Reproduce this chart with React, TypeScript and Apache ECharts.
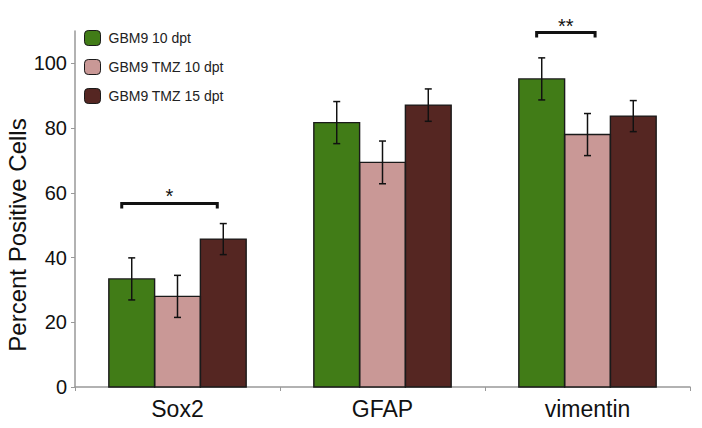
import React, { useEffect, useRef } from "react";
import * as echarts from "echarts";

const categories = ["Sox2", "GFAP", "vimentin"];
const seriesNames = ["GBM9 10 dpt", "GBM9 TMZ 10 dpt", "GBM9 TMZ 15 dpt"];
const green = [33.4, 81.7, 95.2];
const pink = [28.0, 69.4, 78.0];
const dark = [45.7, 87.1, 83.7];
const greenErr = [6.5, 6.5, 6.5];
const pinkErr = [6.5, 6.6, 6.5];
const darkErr = [4.8, 5.0, 4.8];
const yTicks = [0, 20, 40, 60, 80, 100];
const yTitle = "Percent Positive Cells";
// bracket: [category index, y value, left frac of category width, right frac, label]
const brackets: [number, number, number, number, string][] = [
  [0, 56.7, -0.272, 0.194, "*"],
  [2, 109.5, -0.248, 0.037, "**"],
];

const colors = ["#417c17", "#c99896", "#552622"];
const BAR_FRAC = 0.2233; // bar width as fraction of category band
const FONT = "'Liberation Sans', Arial, sans-serif";

export default function App() {
  const ref = useRef<HTMLDivElement>(null);
  useEffect(() => {
    document.body.style.margin = "0";
    const chart = echarts.init(ref.current!, null, { renderer: "svg" });
    const values = [green, pink, dark];
    const errs = [greenErr, pinkErr, darkErr];

    const barSeries = values.map((v, i) => ({
      name: seriesNames[i],
      type: "bar",
      data: v,
      barGap: 0,
      barWidth: BAR_FRAC * 100 + "%",
      itemStyle: { color: colors[i], borderWidth: 0 },
      z: 2,
    }));

    const outlineSeries = values.map((v, i) => ({
      type: "custom",
      name: "outline" + i,
      data: v.map((val, k) => [k, val]),
      z: 4,
      silent: true,
      renderItem: (params: any, api: any) => {
        const k = api.value(0);
        const top = api.coord([k, api.value(1)]);
        const base = api.coord([k, 0]);
        const bw = api.size([1, 0])[0] * BAR_FRAC;
        const cx = top[0] + (i - 1) * bw;
        return {
          type: "rect",
          shape: { x: cx - bw / 2, y: top[1], width: bw, height: base[1] - top[1] },
          style: { fill: "none", stroke: "#1a1a1a", lineWidth: 1.4 },
        };
      },
    }));

    const errSeries = values.map((v, i) => ({
      type: "custom",
      name: "err" + i,
      data: v.map((val, k) => [k, val - errs[i][k], val + errs[i][k]]),
      z: 5,
      silent: true,
      renderItem: (params: any, api: any) => {
        const k = api.value(0);
        const lo = api.coord([k, api.value(1)]);
        const hi = api.coord([k, api.value(2)]);
        const bw = api.size([1, 0])[0] * BAR_FRAC;
        const x = lo[0] + (i - 1) * bw;
        const cap = 3.5;
        const style = { stroke: "#111", lineWidth: 1.5 };
        return {
          type: "group",
          children: [
            { type: "line", shape: { x1: x, y1: hi[1], x2: x, y2: lo[1] }, style },
            { type: "line", shape: { x1: x - cap, y1: hi[1], x2: x + cap, y2: hi[1] }, style },
            { type: "line", shape: { x1: x - cap, y1: lo[1], x2: x + cap, y2: lo[1] }, style },
          ],
        };
      },
    }));

    const bracketSeries = {
      type: "custom",
      name: "brackets",
      data: brackets.map((b) => [b[0], b[1], b[2], b[3], b[4]]),
      clip: false,
      silent: true,
      z: 6,
      renderItem: (params: any, api: any) => {
        const b = brackets[params.dataIndex];
        const c = api.coord([b[0], b[1]]);
        const catW = api.size([1, 0])[0];
        const x1 = c[0] + b[2] * catW;
        const x2 = c[0] + b[3] * catW;
        const y = c[1];
        return {
          type: "group",
          children: [
            {
              type: "polyline",
              shape: { points: [[x1, y + 5], [x1, y], [x2, y], [x2, y + 5]] },
              style: { stroke: "#111", lineWidth: 3, fill: "none" },
            },
            {
              type: "text",
              style: {
                text: b[4],
                x: (x1 + x2) / 2,
                y: y + 3,
                align: "center",
                verticalAlign: "bottom",
                font: "20px " + FONT,
                fill: "#111",
              },
            },
          ],
        };
      },
    };

    chart.setOption({
      animation: false,
      backgroundColor: "#fff",
      textStyle: { fontFamily: FONT },
      grid: { left: 75, right: 12, top: 31, bottom: 41, outerBoundsMode: "none", containLabel: false },
      legend: {
        data: seriesNames.map((n, i) => ({
          name: n,
          itemStyle: { color: colors[i], borderColor: "#1a1a1a", borderWidth: 1 },
        })),
        orient: "vertical",
        left: 84,
        top: 30,
        padding: 0,
        itemWidth: 16,
        itemHeight: 15,
        itemGap: 13,
        textStyle: { fontSize: 14, color: "#222", padding: [0, 0, 0, 3] },
      },
      graphic: [
        {
          type: "text",
          x: 17,
          y: 235,
          rotation: Math.PI / 2,
          style: {
            text: yTitle,
            font: "24px " + FONT,
            fill: "#111",
            align: "center",
            verticalAlign: "middle",
          },
        },
      ],
      xAxis: {
        type: "category",
        data: categories,
        axisLine: { lineStyle: { color: "#999", width: 1.5 } },
        axisTick: { show: true, length: 4, lineStyle: { color: "#999" } },
        axisLabel: { fontSize: 23, color: "#111", margin: 10 },
      },
      yAxis: {
        type: "value",
        min: 0,
        max: 110,
        interval: 10,
        splitLine: { show: false },
        axisLine: { show: true, lineStyle: { color: "#999", width: 1.5 } },
        axisTick: { show: true, length: 4, lineStyle: { color: "#999" }, customValues: yTicks },
        axisLabel: { fontSize: 20, color: "#111", margin: 8, customValues: yTicks },
      },
      series: [...barSeries, ...outlineSeries, ...errSeries, bracketSeries],
    });
    return () => chart.dispose();
  }, []);
  return <div ref={ref} style={{ width: 702, height: 428 }} />;
}
